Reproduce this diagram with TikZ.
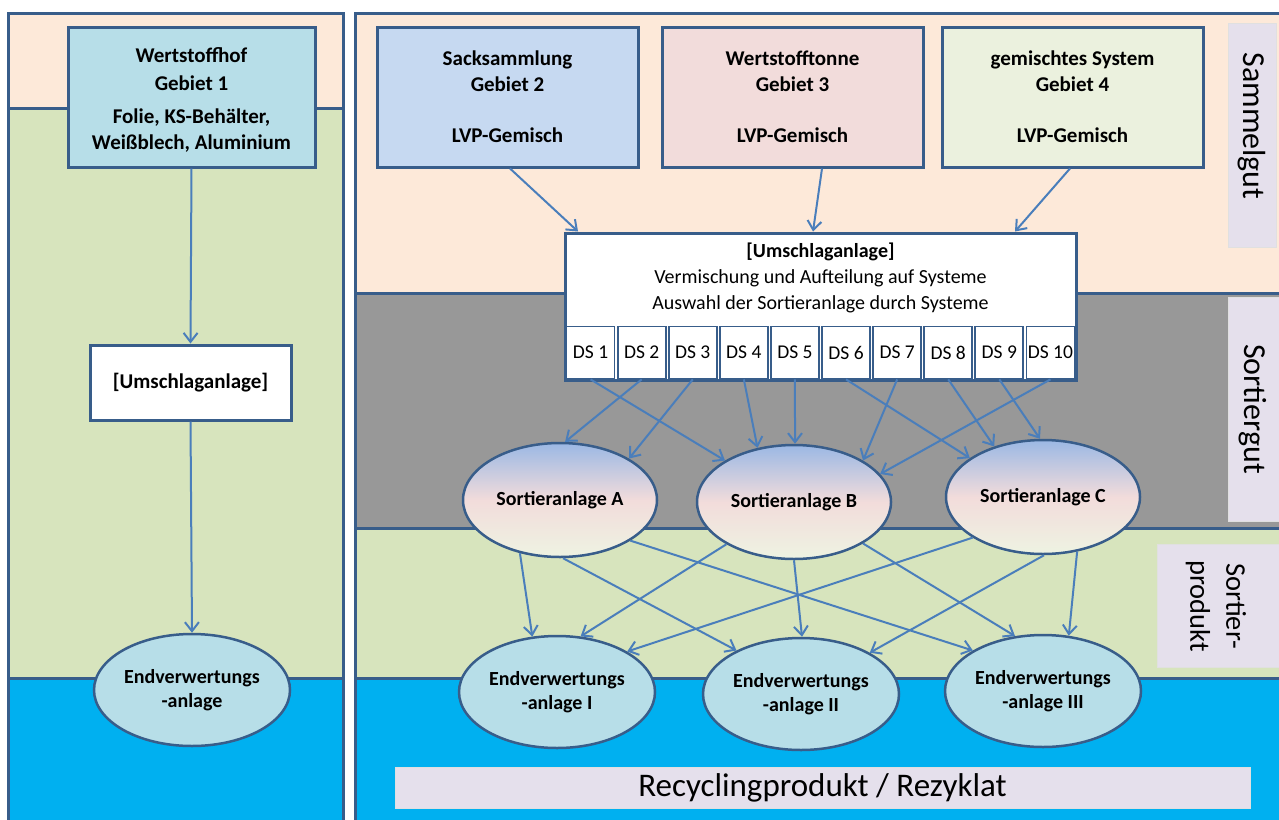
\documentclass[tikz,border=0pt]{standalone}
\usepackage{fontspec}
\setmainfont{Carlito}
\usetikzlibrary{arrows.meta,shapes.geometric}
\definecolor{peach}{HTML}{FDE9D9}
\definecolor{olivebg}{HTML}{D7E4BD}
\definecolor{graybg}{HTML}{989898}
\definecolor{bluebg}{HTML}{00B0F0}
\definecolor{frame}{HTML}{385D8A}
\definecolor{arrowc}{HTML}{4A7EBB}
\definecolor{lav}{HTML}{E5E0EC}
\definecolor{cyanbox}{HTML}{B7DEE8}
\definecolor{bluebox}{HTML}{C6D9F1}
\definecolor{pinkbox}{HTML}{F2DCDB}
\definecolor{greenbox}{HTML}{EBF1DE}
\definecolor{sortop}{HTML}{9BB8E4}
\definecolor{sormid}{HTML}{F2DCDB}
\definecolor{sorbot}{HTML}{EEF3E2}
\begin{document}
\begin{tikzpicture}[x=1pt,y=-1pt,
  box/.style={draw=frame, line width=3pt, rectangle, inner sep=0pt, align=center,
    font=\fontsize{21}{26}\selectfont\bfseries, text=black},
  dscell/.style={draw=frame, line width=1.8pt, fill=white, rectangle, inner sep=0pt,
    minimum width=48pt, minimum height=52pt, font=\fontsize{19.5}{24}\selectfont},
  sorter/.style={ellipse, draw=frame, line width=2.5pt, minimum width=194pt, minimum height=114pt,
    inner sep=0pt, top color=sortop, bottom color=sorbot, middle color=sormid,
    font=\fontsize{20}{24}\selectfont\bfseries},
  endv/.style={ellipse, draw=frame, line width=2.5pt, fill=cyanbox, minimum width=196pt,
    minimum height=112pt, inner sep=0pt, align=center, font=\fontsize{20}{24}\selectfont\bfseries},
  lab/.style={rectangle, fill=lav, draw=black!12, line width=1pt, inner sep=0pt},
  labtext/.style={inner sep=0pt, align=center, font=\fontsize{32}{36}\selectfont},
  arr/.style={draw=arrowc, line width=2pt, -{Straight Barb[length=9pt,width=14pt,line width=2pt]}},
  divider/.style={draw=frame, line width=3pt}
]
\useasboundingbox (0,0) rectangle (1279,819);
\fill[white] (0,0) rectangle (1279,819);
% left panel
\fill[peach] (8,13) rectangle (343,108);
\fill[olivebg] (8,108) rectangle (343,678);
\fill[bluebg] (8,678) rectangle (343,840);
\draw[divider] (8,108) -- (343,108);
\draw[divider] (8,678) -- (343,678);
\draw[divider] (8,840) -- (8,13) -- (343,13) -- (343,840);
% right panel
\fill[peach] (355,13) rectangle (1300,293);
\fill[graybg] (355,293) rectangle (1300,528);
\fill[olivebg] (355,528) rectangle (1300,678);
\fill[bluebg] (355,678) rectangle (1300,840);
\draw[divider] (355,293) -- (1300,293);
\draw[divider] (355,528) -- (1300,528);
\draw[divider] (355,678) -- (1300,678);
\draw[divider] (355,840) -- (355,13) -- (1300,13);

% label boxes
\node[lab, minimum width=48pt, minimum height=224pt] (labsb) at (1252,135) {};
\node[labtext, rotate=-90] (labst) at (1252,126) {Sammelgut};
\node[lab, minimum width=54pt, minimum height=224pt] (labgb) at (1255,409) {};
\node[labtext, rotate=-90] (labgt) at (1253,409) {Sortiergut};
\node[lab, minimum width=125pt, minimum height=123pt] (labpb) at (1219.5,605.5) {};
\node[labtext, rotate=-90, font=\fontsize{28.5}{36}\selectfont] (labpt) at (1216,606) {Sortier-\\produkt};
\node[lab, minimum width=855pt, minimum height=41pt, font=\fontsize{33}{38}\selectfont] (recyc) at (822.5,787.5) {Recyclingprodukt / Rezyklat};

% top boxes
\node[box, fill=cyanbox, minimum width=247pt, minimum height=140pt] (wsh) at (191.5,97) {};
\node[inner sep=0pt, align=center, font=\fontsize{21}{26}\selectfont\bfseries] (wshtext) at (191.5,100)
  {Wertstoffhof\\[2pt]Gebiet 1\\[7pt]Folie, KS-Behälter,\\Weißblech, Aluminium};
\node[box, fill=bluebox, minimum width=261pt, minimum height=140pt] (sack) at (507.5,97)
  {Sacksammlung\\Gebiet 2\\[25pt]LVP-Gemisch};
\node[box, fill=pinkbox, minimum width=261pt, minimum height=140pt] (tonne) at (792.5,97)
  {Wertstofftonne\\Gebiet 3\\[25pt]LVP-Gemisch};
\node[box, fill=greenbox, minimum width=261pt, minimum height=140pt] (gem) at (1072.5,97)
  {gemischtes System\\Gebiet 4\\[25pt]LVP-Gemisch};

% left Umschlaganlage
\node[box, fill=white, minimum width=201pt, minimum height=75pt] (uml) at (190.5,382.5) {[Umschlaganlage]};

% central Umschlaganlage
\node[draw=frame, line width=3pt, fill=white, rectangle, inner sep=0pt,
  minimum width=511pt, minimum height=147pt] (ums) at (820.5,306.5) {};
\node[inner sep=0pt, align=center, font=\fontsize{20}{26}\selectfont] (umstext) at (820.5,278)
  {\textbf{[Umschlaganlage]}\\Vermischung und Aufteilung auf Systeme\\Auswahl der Sortieranlage durch Systeme};
\foreach \i in {1,...,10}
  \node[dscell] (ds\i) at ({565+51.1*(\i-0.5)},352.5) {DS \i};

% Sortieranlagen
\node[sorter] (sa) at (560,500) {Sortieranlage A};
\node[sorter] (sb) at (794,502) {Sortieranlage B};
\node[sorter] (sc) at (1043,497) {Sortieranlage C};

% Endverwertungsanlagen
\node[endv] (ew0) at (192,690) {Endverwertungs\\-anlage};
\node[endv] (ew1) at (557,692) {Endverwertungs\\-anlage I};
\node[endv] (ew2) at (801,694) {Endverwertungs\\-anlage II};
\node[endv] (ew3) at (1043,691) {Endverwertungs\\-anlage III};

% arrows left
\draw[arr] (wsh.south) -- (uml.north);
\draw[arr] (uml.south) -- (ew0.north);
% arrows top boxes
\draw[arr] ([xshift=2.5pt]sack.south) -- ([xshift=-242.5pt]ums.north);
\draw[arr] ([xshift=29.5pt]tonne.south) -- ([xshift=-7.5pt]ums.north);
\draw[arr] ([xshift=-2.5pt]gem.south) -- ([xshift=194.5pt]ums.north);
% DS arrows
\draw[arr] (ds1.south) -- (sb.149);
\draw[arr] (ds2.south) -- (sa.85);
\draw[arr] (ds3.south) -- (sa.31);
\draw[arr] (ds4.south) -- (sb.124);
\draw[arr] (ds5.south) -- (sb.89);
\draw[arr] (ds6.south) -- (sc.152);
\draw[arr] (ds7.south) -- (sb.31);
\draw[arr] (ds8.south) -- (sc.134);
\draw[arr] (ds9.south) -- (sc.93);
\draw[arr] (ds10.south) -- (sb.18);
% Sortier -> Endverwertung
\draw[arr] (sa.233) -- (ew1.114);
\draw[arr] (sa.273) -- (ew2.146);
\draw[arr] (sa.330) -- (ew3.150);
\draw[arr] (sb.212) -- (ew1.67);
\draw[arr] (sb.270) -- (ew2.89);
\draw[arr] (sb.329) -- (ew3.117);
\draw[arr] (sc.210) -- (ew1.30);
\draw[arr] (sc.271) -- (ew2.31);
\draw[arr] (sc.302) -- (ew3.65);
\end{tikzpicture}
\end{document}
